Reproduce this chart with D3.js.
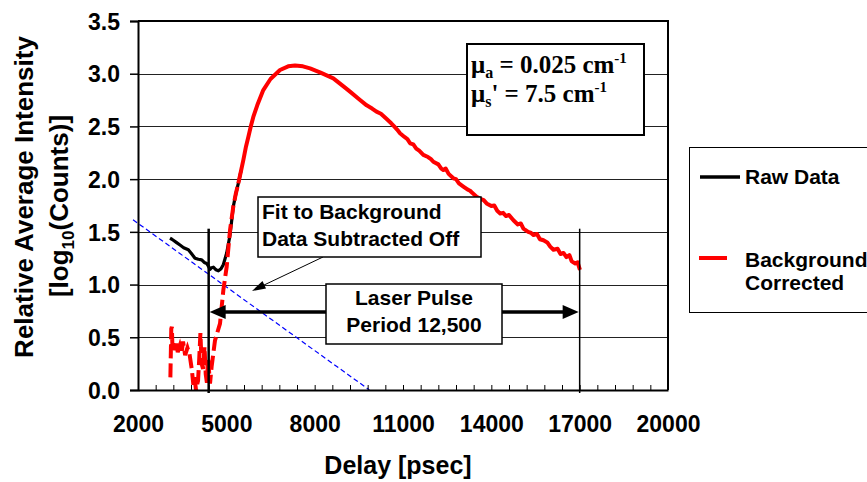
<!DOCTYPE html>
<html>
<head>
<meta charset="utf-8">
<script src="https://cdn.jsdelivr.net/npm/d3@7"></script>
<style>
  body { margin: 0; background: #fff; }
  svg text { font-family: "Liberation Sans", Arial, sans-serif; font-weight: bold; fill: #000; }
</style>
</head>
<body>
<div id="chart"></div>
<script>
(function () {
  // Chart data
  const rawDelay = [3087, 3150, 3200, 3300, 3427, 3550, 3710, 3800, 3936, 4050, 4163, 4250, 4333, 4400,
    4446, 4500, 4560, 4650, 4730, 4820, 4900, 5012, 5126, 5237, 5330, 5407, 5500];
  const rawLog = [1.44, 1.43, 1.42, 1.40, 1.375, 1.35, 1.33, 1.30, 1.25, 1.24, 1.235, 1.21, 1.20, 1.17,
    1.145, 1.16, 1.165, 1.14, 1.13, 1.15, 1.19, 1.30, 1.47, 1.74, 1.87, 1.96, 2.08];

  const corrDelay = [3100, 3130, 3150, 3170, 3200, 3260, 3300, 3350, 3420, 3480, 3530, 3600, 3680, 3750,
    3830, 3880, 3920, 3970, 4040, 4080, 4120, 4160, 4210, 4260, 4300, 4340, 4380, 4446, 4500, 4615,
    4785, 4900, 5012, 5126, 5237, 5320, 5407, 5500, 5577, 5660, 5747, 5830, 5916, 6050, 6255, 6500,
    6823, 7100, 7333, 7600, 7843, 8200, 8634, 9000, 9200, 9500, 9766, 9950, 10100, 10250, 10446,
    10600, 10700, 10800, 10898, 11050, 11150, 11240, 11350, 11450, 11550, 11690, 11850, 11950, 12030,
    12200, 12300, 12370, 12450, 12550, 12710, 12800, 12900, 13050, 13200, 13280, 13350, 13500, 13650,
    13740, 13840, 14000, 14100, 14200, 14300, 14400, 14500, 14600, 14750, 14900, 15000, 15090, 15250,
    15350, 15430, 15550, 15650, 15770, 15900, 16000, 16110, 16250, 16350, 16450, 16550, 16650, 16730,
    16850, 16930, 17010];
  const corrLog = [0.12, 0.58, 0.60, 0.40, 0.44, 0.38, 0.44, 0.36, 0.42, 0.35, 0.46, 0.33, 0.40, 0.34,
    0.19, 0.05, 0.12, 0.0, 0.09, 0.30, 0.54, 0.25, 0.20, 0.41, 0.15, 0.07, 0.30, 0.06, 0.22, 0.47,
    0.63, 0.95, 1.17, 1.518, 1.74, 1.86, 1.96, 2.08, 2.18, 2.30, 2.40, 2.50, 2.59, 2.70, 2.845, 2.95,
    3.035, 3.07, 3.078, 3.07, 3.05, 3.01, 2.956, 2.875, 2.83, 2.76, 2.70, 2.67, 2.64, 2.62, 2.57,
    2.53, 2.50, 2.47, 2.435, 2.40, 2.38, 2.34, 2.33, 2.29, 2.27, 2.23, 2.21, 2.19, 2.165,
    2.14, 2.10, 2.087, 2.10, 2.05, 2.008, 2.00, 1.96, 1.93, 1.90, 1.89, 1.87, 1.834, 1.81,
    1.80, 1.77, 1.745, 1.75, 1.70, 1.675, 1.68, 1.65, 1.66, 1.61, 1.57, 1.58, 1.53, 1.50,
    1.49, 1.47, 1.48, 1.43, 1.42, 1.40, 1.36, 1.33, 1.34, 1.29, 1.30, 1.26, 1.28, 1.22,
    1.20, 1.21, 1.14];
  const dashedUntil = 5407; // red series looks dashed up to here, solid after

  const fitDelay = [1830, 9860];
  const fitLog = [1.615, 0];

  const pulseDelay = [4400, 17000];
  const pulseMarkTop = 1.53;
  const pulseArrowLevel = 0.74;

  const xLabels = [2000, 5000, 8000, 11000, 14000, 17000, 20000];
  const yLabels = [0, 0.5, 1.0, 1.5, 2.0, 2.5, 3.0, 3.5];
  const xMinor = d3.range(2000, 20001, 600);
  const seriesNames = ["Raw Data", "Background", "Corrected"];

  const W = 867, H = 482;
  const svg = d3.select("#chart").append("svg")
    .attr("width", W).attr("height", H)
    .attr("viewBox", `0 0 ${W} ${H}`);

  const x = d3.scaleLinear().domain([2000, 20000]).range([138, 668]);
  const y = d3.scaleLinear().domain([0, 3.5]).range([390, 21]);

  // gridlines
  svg.append("g").selectAll("line")
    .data(yLabels.filter(d => d > 0 && d < 3.5))
    .join("line")
    .attr("x1", x(2000)).attr("x2", x(20000))
    .attr("y1", d => Math.round(y(d)) + 0.5).attr("y2", d => Math.round(y(d)) + 0.5)
    .attr("stroke", "#222").attr("stroke-width", 1);

  // fitted background line
  const pts = (xs, ys) => xs.map((d, i) => [d, ys[i]]);
  const line = d3.line().x(d => x(d[0])).y(d => y(d[1]));

  svg.append("path")
    .attr("d", line(pts(fitDelay, fitLog)))
    .attr("fill", "none").attr("stroke", "#0000ff").attr("stroke-width", 1.2)
    .attr("stroke-dasharray", "5,3");

  // raw data
  svg.append("path")
    .attr("d", line(pts(rawDelay, rawLog)))
    .attr("fill", "none").attr("stroke", "#000").attr("stroke-width", 3.2)
    .attr("stroke-linejoin", "round");

  // background corrected
  const corr = pts(corrDelay, corrLog);
  svg.append("path")
    .attr("d", line(corr.filter(d => d[0] <= dashedUntil)))
    .attr("fill", "none").attr("stroke", "#ff0000").attr("stroke-width", 4)
    .attr("stroke-dasharray", "14,5");
  svg.append("path")
    .attr("d", line(corr.filter(d => d[0] >= dashedUntil)))
    .attr("fill", "none").attr("stroke", "#ff0000").attr("stroke-width", 4)
    .attr("stroke-linejoin", "round");

  // axes
  const yAxis = svg.append("g")
    .attr("transform", `translate(${x(2000)},0)`)
    .call(d3.axisLeft(y).tickValues(yLabels).tickFormat(d3.format(".1f")).tickSize(8).tickPadding(10));
  yAxis.select(".domain").attr("stroke-width", 2);
  yAxis.selectAll(".tick line").attr("stroke-width", 1.5);
  yAxis.selectAll(".tick text").style("font-size", "23px").attr("dy", "0.36em");

  const xMinorAxis = svg.append("g")
    .attr("transform", `translate(0,${y(0)})`)
    .call(d3.axisBottom(x).tickValues(xMinor).tickSize(-5).tickFormat(""));
  xMinorAxis.select(".domain").remove();

  const xAxis = svg.append("g")
    .attr("transform", `translate(0,${y(0)})`)
    .call(d3.axisBottom(x).tickValues(xLabels).tickSize(0).tickPadding(26).tickFormat(d3.format("d")));
  xAxis.select(".domain").attr("stroke-width", 2);
  xAxis.selectAll(".tick text").style("font-size", "23px");

  // top and right frame
  svg.append("path")
    .attr("d", `M${x(2000)},${y(3.5)}H${x(20000)}V${y(0)}`)
    .attr("fill", "none").attr("stroke", "#000").attr("stroke-width", 2);

  // axis titles
  svg.append("text")
    .attr("x", 398).attr("y", 474).attr("text-anchor", "middle")
    .style("font-size", "25px").text("Delay [psec]");

  const yt = svg.append("g").attr("transform", "rotate(-90)");
  yt.append("text")
    .attr("x", -197).attr("y", 33).attr("text-anchor", "middle")
    .style("font-size", "26px").text("Relative Average Intensity");
  const yt2 = yt.append("text")
    .attr("x", -206).attr("y", 68).attr("text-anchor", "middle")
    .style("font-size", "26px");
  yt2.append("tspan").text("[log");
  yt2.append("tspan").attr("dy", 6).style("font-size", "17px").text("10");
  yt2.append("tspan").attr("dy", -6).text("(Counts)]");

  // laser pulse marks
  svg.append("g").selectAll("line")
    .data(pulseDelay)
    .join("line")
    .attr("x1", d => x(d)).attr("x2", d => x(d))
    .attr("y1", y(pulseMarkTop)).attr("y2", y(0) + 3)
    .attr("stroke", "#000").attr("stroke-width", (d, i) => i === 0 ? 2.5 : 1.5);

  const ay = y(pulseArrowLevel);
  const ax0 = x(pulseDelay[0]) + 1, ax1 = x(pulseDelay[1]) - 1;
  svg.append("line")
    .attr("x1", ax0 + 12).attr("x2", ax1 - 12).attr("y1", ay).attr("y2", ay)
    .attr("stroke", "#000").attr("stroke-width", 3.5);
  svg.append("path")
    .attr("d", `M${ax0},${ay}l16,-7v14z M${ax1},${ay}l-16,-7v14z`)
    .attr("fill", "#000");

  // annotation: Laser pulse period
  svg.append("rect")
    .attr("x", 326).attr("y", 284).attr("width", 176).attr("height", 60)
    .attr("fill", "#fff").attr("stroke", "#000").attr("stroke-width", 1.5);
  svg.append("text").attr("x", 414).attr("y", 305).attr("text-anchor", "middle")
    .style("font-size", "21px").text("Laser Pulse");
  svg.append("text").attr("x", 414).attr("y", 332).attr("text-anchor", "middle")
    .style("font-size", "21px").text("Period 12,500");

  // annotation: fit to background
  svg.append("line")
    .attr("x1", 323).attr("y1", 257).attr("x2", 262).attr("y2", 286)
    .attr("stroke", "#000").attr("stroke-width", 1);
  svg.append("path")
    .attr("d", "M252,291 L262.5,281 L266,288.5 Z")
    .attr("fill", "#000");
  svg.append("rect")
    .attr("x", 258).attr("y", 197).attr("width", 223).attr("height", 60)
    .attr("fill", "#fff").attr("stroke", "#000").attr("stroke-width", 1.5);
  svg.append("text").attr("x", 262).attr("y", 219)
    .style("font-size", "21px").text("Fit to Background");
  svg.append("text").attr("x", 262).attr("y", 246)
    .style("font-size", "21px").text("Data Subtracted Off");

  // annotation: optical properties
  svg.append("rect")
    .attr("x", 467).attr("y", 44).attr("width", 177).attr("height", 91)
    .attr("fill", "#fff").attr("stroke", "#000").attr("stroke-width", 2);
  const mu = (yy, sub, rest) => {
    const t = svg.append("text").attr("x", 471).attr("y", yy)
      .style("font-family", "'Liberation Serif', 'Times New Roman', serif")
      .style("font-size", "25px");
    t.append("tspan").text("\u03bc");
    t.append("tspan").attr("dy", 5).style("font-size", "16px").text(sub);
    t.append("tspan").attr("dy", -5).text(rest);
    t.append("tspan").attr("dy", -10).style("font-size", "15px").text("-1");
  };
  mu(73, "a", " = 0.025 cm");
  mu(101.5, "s", "' = 7.5 cm");

  // legend
  const lg = svg.append("g");
  lg.append("rect")
    .attr("x", 689.5).attr("y", 147.5).attr("width", 200).attr("height", 165)
    .attr("fill", "#fff").attr("stroke", "#000").attr("stroke-width", 1);
  lg.append("line").attr("x1", 700).attr("x2", 740).attr("y1", 177).attr("y2", 177)
    .attr("stroke", "#000").attr("stroke-width", 3.5);
  lg.append("line").attr("x1", 699).attr("x2", 727).attr("y1", 258).attr("y2", 258)
    .attr("stroke", "#ff0000").attr("stroke-width", 4);
  lg.append("text").attr("x", 745).attr("y", 184).style("font-size", "21px").text(seriesNames[0]);
  lg.append("text").attr("x", 745).attr("y", 266.5).style("font-size", "21px").text(seriesNames[1]);
  lg.append("text").attr("x", 745).attr("y", 290).style("font-size", "21px").text(seriesNames[2]);
})();
</script>
</body>
</html>
